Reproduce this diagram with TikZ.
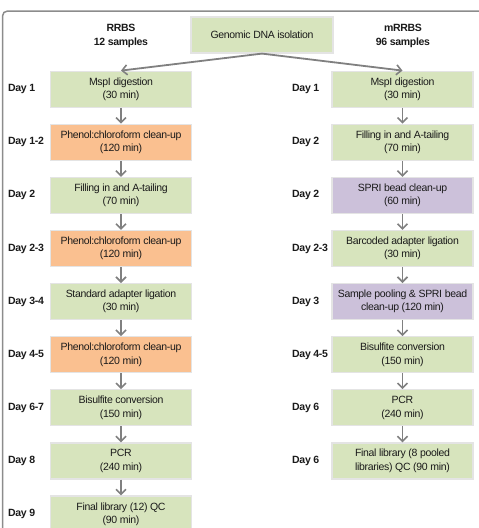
\documentclass[tikz,border=0pt]{standalone}
\usepackage{fontspec}
\setmainfont{Liberation Sans}[LetterSpace=-3]
\usetikzlibrary{arrows.meta}
\definecolor{boxgreen}{HTML}{D7E4BD}
\definecolor{boxorange}{HTML}{FAC090}
\definecolor{boxpurple}{HTML}{CCC1DA}
\definecolor{boxedge}{HTML}{E4E4E4}
\definecolor{arrowgray}{HTML}{808080}
\definecolor{framegray}{HTML}{8C8C8C}
\definecolor{txt}{HTML}{1A1A1A}
\tikzset{
  stepbox/.style={draw=boxedge, line width=1.2pt, minimum width=141pt, minimum height=36pt,
    inner sep=0pt, align=center, text=txt, font=\fontsize{10.5}{13.3}\selectfont},
  gbox/.style={stepbox, fill=boxgreen},
  obox/.style={stepbox, fill=boxorange},
  pbox/.style={stepbox, fill=boxpurple},
  daylbl/.style={anchor=west, inner sep=0pt, text=txt, font=\fontsize{10.5}{13}\selectfont\bfseries},
  headlbl/.style={align=center, inner sep=0pt, text=txt, font=\fontsize{10.5}{14.4}\selectfont\bfseries},
  flow/.style={draw=arrowgray, line width=1.8pt, -{Straight Barb[length=5pt,width=10pt,line width=1.6pt]}},
}
\begin{document}
\begin{tikzpicture}[x=1pt,y=-1pt]
\useasboundingbox (0,0) rectangle (479,528);
% frame
\draw[framegray, line width=1.5pt, rounded corners=5pt] (485,11) -- (2.5,11) -- (2.5,535);
% header
\node[gbox, minimum width=142pt] (g) at (262,35) {Genomic DNA isolation};
\node[headlbl] (hl) at (121,36) {RRBS\\12 samples};
\node[headlbl] (hr) at (403,36) {mRRBS\\96 samples};
% left column
\node[gbox] (l1) at (121,89.2) {MspI digestion\\(30 min)};
\node[obox] (l2) at (121,142.3) {Phenol:chloroform clean-up\\(120 min)};
\node[gbox] (l3) at (121,195.4) {Filling in and A-tailing\\(70 min)};
\node[obox] (l4) at (121,248.5) {Phenol:chloroform clean-up\\(120 min)};
\node[gbox] (l5) at (121,301.6) {Standard adapter ligation\\(30 min)};
\node[obox] (l6) at (121,354.7) {Phenol:chloroform clean-up\\(120 min)};
\node[gbox] (l7) at (121,407.8) {Bisulfite conversion\\(150 min)};
\node[gbox] (l8) at (121,460.9) {PCR\\(240 min)};
\node[gbox] (l9) at (121,514) {Final library (12) QC\\(90 min)};
% right column
\node[gbox] (r1) at (402.5,89.2) {MspI digestion\\(30 min)};
\node[gbox] (r2) at (402.5,142.3) {Filling in and A-tailing\\(70 min)};
\node[pbox] (r3) at (402.5,195.4) {SPRI bead clean-up\\(60 min)};
\node[gbox] (r4) at (402.5,248.5) {Barcoded adapter ligation\\(30 min)};
\node[pbox] (r5) at (402.5,301.6) {Sample pooling \& SPRI bead\\clean-up (120 min)};
\node[gbox] (r6) at (402.5,354.7) {Bisulfite conversion\\(150 min)};
\node[gbox] (r7) at (402.5,407.8) {PCR\\(240 min)};
\node[gbox] (r8) at (402.5,460.9) {Final library (8 pooled\\libraries) QC (90 min)};
% day labels left
\node[daylbl] (dl1) at (8,89.2) {Day 1};
\node[daylbl] (dl2) at (8,142.3) {Day 1-2};
\node[daylbl] (dl3) at (8,195.4) {Day 2};
\node[daylbl] (dl4) at (8,248.5) {Day 2-3};
\node[daylbl] (dl5) at (8,301.6) {Day 3-4};
\node[daylbl] (dl6) at (8,354.7) {Day 4-5};
\node[daylbl] (dl7) at (8,407.8) {Day 6-7};
\node[daylbl] (dl8) at (8,460.9) {Day 8};
\node[daylbl] (dl9) at (8,514) {Day 9};
% day labels right
\node[daylbl] (dr1) at (292,89.2) {Day 1};
\node[daylbl] (dr2) at (292,142.3) {Day 2};
\node[daylbl] (dr3) at (292,195.4) {Day 2};
\node[daylbl] (dr4) at (292,248.5) {Day 2-3};
\node[daylbl] (dr5) at (292,301.6) {Day 3};
\node[daylbl] (dr6) at (292,354.7) {Day 4-5};
\node[daylbl] (dr7) at (292,407.8) {Day 6};
\node[daylbl] (dr8) at (292,460.9) {Day 6};
% arrows
\draw[flow] (g.south) -- (l1.north);
\draw[flow] (g.south) -- (r1.north);
\foreach \a/\b in {l1/l2,l2/l3,l3/l4,l4/l5,l5/l6,l6/l7,l7/l8,l8/l9,r1/r2,r2/r3,r3/r4,r4/r5,r5/r6,r6/r7,r7/r8}
  \draw[flow] (\a.south) -- (\b.north);
\end{tikzpicture}
\end{document}
